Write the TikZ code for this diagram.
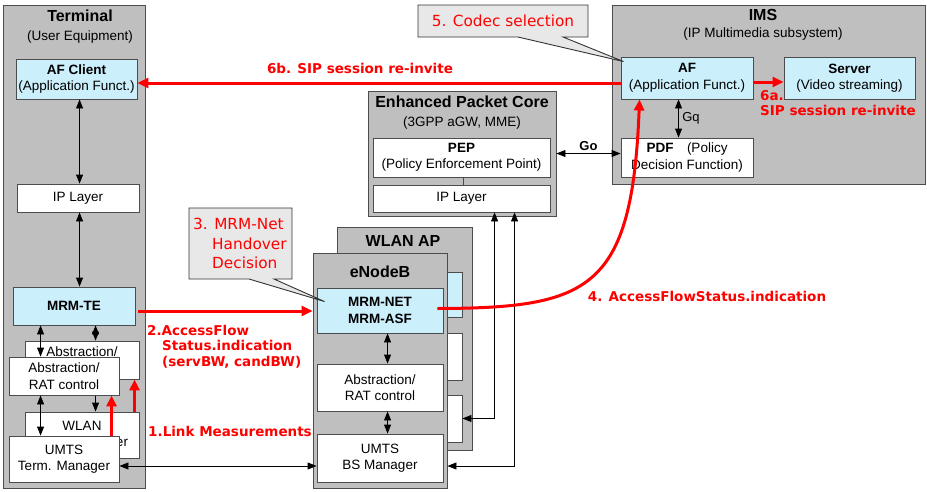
\documentclass[tikz,border=0pt]{standalone}
\usepackage{fontspec}
\setmainfont{Liberation Sans}
\newfontfamily\redfont{DejaVu Sans}
\usetikzlibrary{arrows.meta}

\begin{document}
\begin{tikzpicture}[x=1pt,y=-1pt,
  sz/.style 2 args={minimum width=#1pt,minimum height=#2pt},
  grp/.style={draw=black!70,fill=black!25,line width=0.9pt,inner sep=0pt},
  blk/.style={draw=black!70,fill=white,line width=0.9pt,inner sep=0pt,align=center,font=\fontsize{13.5}{16.5}\selectfont},
  cblk/.style={blk,fill=cyan!20},
  ttl/.style={font=\fontsize{16}{18}\selectfont\bfseries},
  sub/.style={font=\fontsize{13.5}{16}\selectfont},
  dbl/.style={{Triangle[length=9pt,width=7pt]}-{Triangle[length=9pt,width=7pt]},line width=0.9pt},
  rarr/.style={-{Triangle[length=11pt,width=10pt]},red,line width=3pt},
  rlbl/.style={text=red,inner sep=0pt,align=left,font=\redfont\bfseries\fontsize{13.5}{15.5}\selectfont},
  bubble/.style={draw=black!80,fill=black!9,line width=0.9pt},
  btxt/.style={text=red,inner sep=0pt,align=left,font=\redfont\fontsize{15.3}{19.5}\selectfont},
]
\useasboundingbox (0,0) rectangle (927,491);

% terminal
\node[grp,sz={142}{483}] (term) at (74,246.5) {};
\node[ttl] (termT) at (80,16) {Terminal};
\node[sub] (termS) at (80,37) {(User Equipment)};
\node[cblk,sz={121}{40}] (afc) at (76.5,79) {\textbf{AF Client}\\(Application Funct.)};
\node[blk,sz={122}{28}] (tip) at (78,198) {IP Layer};
\node[cblk,sz={122}{38}] (mrmte) at (74,306) {\textbf{MRM-TE}};
\node[blk,sz={114}{38}] (wabs) at (82,360) {Abstraction/\\RAT control}; % wlan side, behind
\node[blk,sz={114}{46}] (wman) at (82,435) {WLAN\\Term. Manager};
\draw[dbl] ([xshift=71]wabs.south west) -- ([xshift=71]wabs.south west |- wman.north);
\node[blk,sz={110}{38}] (uabs) at (64,376) {Abstraction/\\RAT control}; % umts side, in front
\node[blk,sz={110}{46}] (uman) at (64,459) {UMTS\\Term. Manager};
\draw[dbl] ([xshift=64]afc.south west) -- ([xshift=64]afc.south west |- tip.north);
\draw[dbl] ([xshift=63]tip.south west) -- ([xshift=63]tip.south west |- mrmte.north);
\draw[dbl] ([xshift=28]mrmte.south west) -- ([xshift=28]mrmte.south west |- uabs.north);
\draw[dbl] ([xshift=83]mrmte.south west) -- ([xshift=83]mrmte.south west |- wabs.north);
\draw[dbl] ([xshift=32]uabs.south west) -- ([xshift=32]uabs.south west |- uman.north);
\draw[rarr] ([xshift=103]uman.north west) -- ([xshift=103]uman.north west |- uabs.south);
\draw[rarr] ([xshift=110]wman.north west) -- ([xshift=110]wman.north west |- wabs.south);

% core network
\node[grp,sz={188}{125}] (epc) at (462,153.5) {};
\node[ttl] (epcT) at (462,102) {Enhanced Packet Core};
\node[sub] (epcS) at (462,123) {(3GPP aGW, MME)};
\node[blk,sz={177}{39}] (pep) at (461.5,157.5) {\textbf{PEP}\\(Policy Enforcement Point)};
\node[blk,sz={177}{27}] (eip) at (461.5,198.5) {IP Layer};
\draw[line width=0.9pt,black!70] ([xshift=91]pep.south west) -- ([xshift=91]pep.south west |- eip.north);

% ims
\node[grp,sz={313}{179}] (ims) at (768.5,94.5) {};
\node[ttl] (imsT) at (763,15) {IMS};
\node[sub] (imsS) at (763,34) {(IP Multimedia subsystem)};
\node[cblk,sz={132}{42}] (af) at (687,78) {\textbf{AF}\\(Application Funct.)};
\node[cblk,sz={131}{42}] (srv) at (849.5,78) {\textbf{Server}\\(Video streaming)};
\node[blk,sz={132}{39}] (pdf) at (687,157.5) {\textbf{PDF}\quad(Policy\\Decision Function)};
\draw[dbl] ([xshift=58]af.south west) -- ([xshift=58]af.south west |- pdf.north)
  node[midway,right,font=\fontsize{13}{15}\selectfont] {Gq};
\draw[dbl] ([yshift=4]pdf.west) -- ([yshift=4]pdf.west -| epc.east)
  node[midway,above,inner sep=2pt,font=\fontsize{13}{15}\selectfont\bfseries] {Go};

% access points
\node[grp,sz={135}{223}] (wap) at (404.5,338.5) {};
\node[ttl] (wapT) at (403,241) {WLAN AP};
\node[cblk,sz={117}{45}] (wmrm) at (403.5,294.5) {};
\node[blk,sz={117}{47}] (wrat) at (403.5,356.5) {};
\node[blk,sz={117}{47}] (wbs) at (403.5,418.5) {};
\node[grp,sz={134}{235}] (enb) at (380,370.5) {};
\node[ttl] (enbT) at (380,272) {eNodeB};
\node[cblk,sz={126}{45}] (mrmnet) at (380,310.5) {\textbf{MRM-NET}\\\textbf{MRM-ASF}};
\node[blk,sz={126}{47}] (erat) at (380,387.5) {Abstraction/\\RAT control};
\node[blk,sz={126}{48}] (bsm) at (380,458) {UMTS\\BS Manager};
\draw[dbl] ([xshift=71]mrmnet.south west) -- ([xshift=71]mrmnet.south west |- erat.north);
\draw[dbl] ([xshift=71]erat.south west) -- ([xshift=71]erat.south west |- bsm.north);
\draw[dbl] ([xshift=122]eip.south west) |- (wbs.east);
\draw[dbl] ([xshift=142]eip.south west) |- ([yshift=-8]bsm.east -| enb.east);
\draw[dbl] ([yshift=-7]uman.east) -- ([yshift=-7]uman.east -| bsm.west);

% signalling steps
\node[rlbl] (l1) at (230,431) {1.Link Measurements};
\draw[rarr] ([xshift=3,yshift=-5]mrmte.east) -- ([yshift=-5]mrmte.east -| enb.west);
\node[rlbl,anchor=north west] (l2) at (147,325) {2.AccessFlow\\\hspace*{15pt}Status.indication\\\hspace*{15pt}(servBW, candBW)};
\filldraw[bubble] (189,208) -- (292,208) -- (292,279) -- (274,279) -- ([xshift=8,yshift=-14]mrmnet.north west) -- (249,279) -- (189,279) -- cycle;
\node[btxt,anchor=north west] (hodec) at (193,218) {3. MRM-Net\\\hspace*{19pt}Handover\\\hspace*{19pt}Decision};
\filldraw[bubble] (418,5) -- (588,5) -- (588,37) -- (563,37) -- ([xshift=3,yshift=-5]af.north west) -- (518,37) -- (418,37) -- cycle;
\node[btxt] (codec) at (503,21) {5. Codec selection};
\draw[rarr] ([yshift=-4]af.east) -- ([yshift=-4]af.east -| srv.west);
\node[rlbl,anchor=north west] (l6a) at (760,90) {6a.\\SIP session re-invite};
\draw[rarr] ([yshift=-5]af.west) -- ([yshift=-5]af.west -| afc.east);
\node[rlbl] (l6b) at (360,68) {6b. SIP session re-invite};
\draw[rarr] ([xshift=-6,yshift=2]mrmnet.east) .. controls (590,308) and (632,290) .. ([xshift=19]af.south west);
\node[rlbl] (l4) at (707,296) {4. AccessFlowStatus.indication};
\end{tikzpicture}
\end{document}
